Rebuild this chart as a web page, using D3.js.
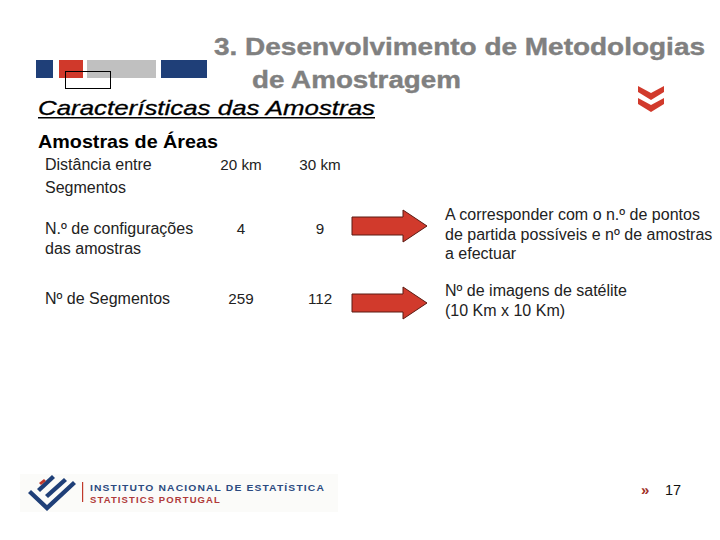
<!DOCTYPE html>
<html><head><meta charset="utf-8">
<script src="https://cdn.jsdelivr.net/npm/d3@7"></script>
<style>
html,body{margin:0;padding:0;background:#fff;}
svg{display:block;font-family:"Liberation Sans",Arial,sans-serif;}
</style></head>
<body>
<svg id="c" width="720" height="540"></svg>
<script>
// ---- data ----
const titleLines = ["3. Desenvolvimento de Metodologias", "de Amostragem"];
const subtitle = "Características das Amostras";
const sectionTitle = "Amostras de Áreas";
const columns = ["20 km", "30 km"];
const rowLabels = [["Distância entre", "Segmentos"], ["N.º de configurações", "das amostras"], ["Nº de Segmentos"]];
const values20 = [null, 4, 259];
const values30 = [null, 9, 112];
const notes = [null, ["A corresponder com o n.º de pontos", "de partida possíveis e nº de amostras", "a efectuar"], ["Nº de imagens de satélite", "(10 Km x 10 Km)"]];
const pageNumber = "17";

const svg = d3.select("#c");
const red = "#d13a2c", blue = "#1f3f78", grey = "#808080";

// header bars
const bars = [[36,53,blue],[59,83,"#d0392b"],[87,156,"#c0c0c0"],[161,207,blue]];
svg.selectAll("rect.hb").data(bars).join("rect").attr("class","hb")
  .attr("x",d=>d[0]).attr("y",60).attr("width",d=>d[1]-d[0]).attr("height",18).attr("fill",d=>d[2]);
svg.append("rect").attr("x",65.5).attr("y",71.5).attr("width",45).attr("height",17)
  .attr("fill","none").attr("stroke","#000").attr("stroke-width",1);

// title
svg.append("text").attr("x",214).attr("y",55).attr("font-size",24.5).attr("font-weight","bold")
  .attr("fill",grey).attr("stroke",grey).attr("stroke-width",0.4)
  .attr("textLength",491).attr("lengthAdjust","spacingAndGlyphs").text(titleLines[0]);
svg.append("text").attr("x",252).attr("y",88).attr("font-size",24.5).attr("font-weight","bold")
  .attr("fill",grey).attr("stroke",grey).attr("stroke-width",0.4)
  .attr("textLength",209).attr("lengthAdjust","spacingAndGlyphs").text(titleLines[1]);

// chevrons top right
const chev = svg.append("g").attr("fill",red);
[0,12].forEach(dy=>{
  chev.append("path").attr("d",`M638,${86+dy} L651,${93+dy} L664,${86+dy} L664,${92+dy} L651,${100+dy} L638,${92+dy} Z`);
});

// subtitle
svg.append("text").attr("x",38).attr("y",115).attr("font-size",21).attr("font-style","italic")
  .attr("fill","#000").attr("stroke","#000").attr("stroke-width",0.3)
  .attr("textLength",337).attr("lengthAdjust","spacingAndGlyphs").text(subtitle);
svg.append("rect").attr("x",38).attr("y",117).attr("width",337).attr("height",1.5).attr("fill","#000");

svg.append("text").attr("x",38).attr("y",148).attr("font-size",19).attr("font-weight","bold")
  .attr("fill","#000").attr("textLength",180).attr("lengthAdjust","spacingAndGlyphs").text(sectionTitle);

// table
const xCol = d3.scalePoint().domain(columns).range([241,320]);
const yRow = d3.scaleOrdinal().domain([0,1,2]).range([170,234,304]);
const lineH = 20;
const tc = "#222";
const tbl = svg.append("g").attr("font-size",16).attr("fill",tc);
rowLabels.forEach((lines,i)=>{
  const lh = i===0 ? 23 : lineH;
  lines.forEach((l,j)=>tbl.append("text").attr("x",45).attr("y",yRow(i)+j*lh).text(l));
});
columns.forEach(c=>tbl.append("text").attr("x",xCol(c)).attr("y",yRow(0)).attr("font-size",15.2)
  .attr("text-anchor","middle").text(c));
[values20, values30].forEach((vals,ci)=>{
  vals.forEach((v,i)=>{ if(v!==null) tbl.append("text").attr("x",xCol(columns[ci])).attr("y",yRow(i))
    .attr("font-size",15.2).attr("text-anchor","middle").text(v); });
});

// arrows & notes
const arrowY = d3.scaleOrdinal().domain([1,2]).range([226,303]);
const noteY = d3.scaleOrdinal().domain([1,2]).range([220,296]);
notes.forEach((n,i)=>{
  if(!n) return;
  const cy = arrowY(i);
  svg.append("path")
    .attr("d",`M352,${cy-9} L403,${cy-9} L403,${cy-16} L427,${cy} L403,${cy+16} L403,${cy+9} L352,${cy+9} Z`)
    .attr("fill",red).attr("stroke","#5a1a12").attr("stroke-width",1);
  n.forEach((l,j)=>tbl.append("text").attr("x",445).attr("y",noteY(i)+j*19.5).text(l));
});

// bottom logo
const lg = svg.append("g");
lg.append("rect").attr("x",20).attr("y",474).attr("width",318).attr("height",38).attr("fill","#fbfbf9");
lg.append("path").attr("d","M31,490 L47,505 L73,481 L76,484 L47,511 L28,493 Z").attr("fill",blue);
lg.append("path").attr("d","M37,489 L52,475 L55,478 L40,492 Z").attr("fill",blue);
lg.append("path").attr("d","M45,495 L64,478 L67,481 L48,498 Z").attr("fill",blue);
lg.append("path").attr("d","M39,483 L44,479 L46,481 L41,485 Z").attr("fill","#c0392b");
lg.append("rect").attr("x",82).attr("y",482).attr("width",1.2).attr("height",20).attr("fill","#c0392b");
lg.append("text").attr("x",90).attr("y",491).attr("font-size",9).attr("font-weight","bold")
  .attr("fill","#2c4a80").attr("letter-spacing",1).attr("textLength",235).attr("lengthAdjust","spacingAndGlyphs")
  .text("INSTITUTO NACIONAL DE ESTATÍSTICA");
lg.append("text").attr("x",90).attr("y",503).attr("font-size",8.5).attr("font-weight","bold")
  .attr("fill","#b03a3a").attr("letter-spacing",1).attr("textLength",131).attr("lengthAdjust","spacingAndGlyphs")
  .text("STATISTICS PORTUGAL");

// page number
svg.append("text").attr("x",641).attr("y",495).attr("font-size",15).attr("font-weight","bold")
  .attr("fill","#a03028").text("»");
svg.append("text").attr("x",665).attr("y",495).attr("font-size",14.5).attr("fill","#111").text(pageNumber);
</script>
</body></html>
